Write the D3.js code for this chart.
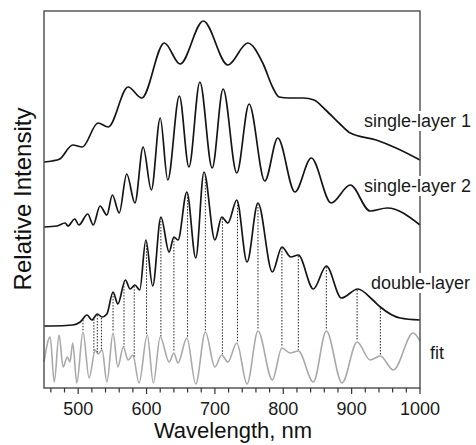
<!DOCTYPE html>
<html>
<head>
<meta charset="utf-8">
<script src="https://cdn.jsdelivr.net/npm/d3@7"></script>
<style>
  html, body { margin: 0; padding: 0; background: #fff; }
  svg { display: block; font-family: "Liberation Sans", Arial, sans-serif; }
</style>
</head>
<body>
<svg id="chart" width="476" height="445"></svg>
<script>
// wavelength (nm) / relative intensity (a.u.)
const singleLayer1Wl = [450, 462, 473, 492, 506, 529, 544, 573, 593, 626, 649, 683, 719, 748, 770, 785, 794, 808, 829, 845, 862, 883, 898, 936, 965, 1000];
const singleLayer1 = [226, 227, 229, 243, 241, 265, 261, 301, 290, 345, 324, 367, 323, 345, 325, 300, 291, 290, 290, 288, 278, 264, 255, 248, 240, 228];

const singleLayer2Wl = [450, 469, 481, 485, 495, 501, 514, 522, 532, 542, 550, 560, 571, 583, 595, 607, 620, 631, 648, 662, 678, 696, 712, 732, 750, 773, 792, 817, 841, 870, 898, 927, 952, 1000];
const singleLayer2 = [161, 162, 165, 162, 169, 163, 174, 163, 182, 173, 193, 175, 214, 185, 241, 198, 270, 208, 292, 221, 306, 220, 299, 215, 284, 207, 250, 196, 230, 185, 203, 177, 180, 163];

const doubleLayerWl = [450, 462, 492, 503, 513, 520, 528, 535, 542, 551, 558, 569, 576, 583, 590, 599, 609, 621, 633, 640, 646, 659, 672, 684, 700, 710, 719, 732, 747, 763, 784, 798, 811, 822, 844, 863, 885, 909, 931, 942, 971, 1000];
const doubleLayer = [62, 62, 63, 66, 73, 68, 74, 71, 74, 96, 84, 108, 99, 103, 98, 148, 102, 171, 136, 151, 148, 196, 130, 216, 148, 171, 165, 188, 126, 185, 116, 141, 131, 133, 99, 122, 90, 99, 88, 81, 70, 68];

const fitWl = [450, 459, 465, 472, 478, 484, 488, 492, 498, 507, 516, 525, 529, 535, 542, 551, 558, 566, 573, 580, 589, 601, 610, 620, 633, 640, 646, 659, 672, 686, 700, 710, 719, 732, 747, 763, 784, 798, 810, 822, 844, 863, 886, 908, 927, 942, 961, 990, 1000];
const fit = [26, 51, 6, 53, 21, 31, 26, 45, 5, 56, 10, 38, 34, 38, 6, 55, 21, 41, 28, 33, 5, 53, 5, 51, 26, 35, 25, 50, 4, 56, 21, 33, 26, 45, 4, 57, 8, 40, 35, 37, 6, 57, 5, 46, 28, 32, 18, 55, 47];

// wavelengths of the dotted guide lines (double-layer peak -> fit peak)
const guideWl = [507, 523, 528, 534, 551, 567, 582, 600, 621, 640, 660, 686, 711, 733, 763, 798, 822, 863, 908, 942];

const majorTicks = [500, 600, 700, 800, 900, 1000];
const minorTicks = d3.range(460, 1001, 20);

const seriesLabels = [
  { text: "single-layer 1", x: 364, y: 127 },
  { text: "single-layer 2", x: 364, y: 192 },
  { text: "double-layer", x: 371, y: 289 },
  { text: "fit", x: 430, y: 359 }
];

const svg = d3.select("#chart");
const margin = { top: 11, right: 56, bottom: 57, left: 44 };
const W = 476, H = 445;
const x = d3.scaleLinear().domain([450, 1000]).range([margin.left, W - margin.right]);
const y = d3.scaleLinear().domain([0, 377]).range([H - margin.bottom, margin.top]);

const line = d3.line()
  .x((d) => x(d[0]))
  .y((d) => y(d[1]))
  .curve(d3.curveMonotoneX);

const zip = (a, b) => a.map((v, i) => [v, b[i]]);

const plot = svg.append("g");

const fitPath = plot.append("path")
  .attr("d", line(zip(fitWl, fit)))
  .attr("fill", "none")
  .attr("stroke", "#a9a9a9")
  .attr("stroke-width", 1.6);

const dlPath = plot.append("path")
  .attr("d", line(zip(doubleLayerWl, doubleLayer)))
  .attr("fill", "none")
  .attr("stroke", "#151515")
  .attr("stroke-width", 1.7);

plot.append("path")
  .attr("d", line(zip(singleLayer2Wl, singleLayer2)))
  .attr("fill", "none")
  .attr("stroke", "#151515")
  .attr("stroke-width", 1.7);

plot.append("path")
  .attr("d", line(zip(singleLayer1Wl, singleLayer1)))
  .attr("fill", "none")
  .attr("stroke", "#151515")
  .attr("stroke-width", 1.7);

// find the y of a rendered path at a given screen x
function yOnPath(node, px) {
  const total = node.getTotalLength();
  let lo = 0, hi = total;
  for (let i = 0; i < 40; i++) {
    const mid = (lo + hi) / 2;
    if (node.getPointAtLength(mid).x < px) lo = mid; else hi = mid;
  }
  return node.getPointAtLength((lo + hi) / 2).y;
}

plot.selectAll(".guide")
  .data(guideWl)
  .join("line")
  .attr("x1", (d) => x(d))
  .attr("x2", (d) => x(d))
  .attr("y1", (d) => yOnPath(dlPath.node(), x(d)) + 1)
  .attr("y2", (d) => yOnPath(fitPath.node(), x(d)) - 1)
  .attr("stroke", "#222")
  .attr("stroke-width", 1)
  .attr("stroke-dasharray", "1.5,1.5");

// frame
svg.append("rect")
  .attr("x", margin.left)
  .attr("y", margin.top)
  .attr("width", W - margin.left - margin.right)
  .attr("height", H - margin.top - margin.bottom)
  .attr("fill", "none")
  .attr("stroke", "#4a4a4a")
  .attr("stroke-width", 1.4);

// x ticks
const axisY = H - margin.bottom;
svg.selectAll(".minor")
  .data(minorTicks)
  .join("line")
  .attr("x1", (d) => x(d))
  .attr("x2", (d) => x(d))
  .attr("y1", axisY)
  .attr("y2", (d) => axisY + (d % 100 === 0 ? 6 : 4.5))
  .attr("stroke", "#333")
  .attr("stroke-width", 1.2);

svg.selectAll(".tick-label")
  .data(majorTicks)
  .join("text")
  .attr("x", (d) => x(d))
  .attr("y", 415)
  .attr("text-anchor", "middle")
  .attr("fill", "#1a1a1a")
  .style("font-size", "18px")
  .text((d) => d);

svg.append("text")
  .attr("x", 233)
  .attr("y", 438)
  .attr("text-anchor", "middle")
  .attr("fill", "#111")
  .style("font-size", "22px")
  .text("Wavelength, nm");

svg.append("text")
  .attr("transform", "translate(31,199) rotate(-90)")
  .attr("text-anchor", "middle")
  .attr("fill", "#111")
  .style("font-size", "24px")
  .text("Relative Intensity");

// series labels sit on a white patch that breaks the frame
const labelG = svg.append("g");
seriesLabels.forEach((d) => {
  const g = labelG.append("g");
  const bg = g.append("rect").attr("fill", "#fff");
  const t = g.append("text")
    .attr("x", d.x)
    .attr("y", d.y)
    .attr("fill", "#1a1a1a")
    .style("font-size", "18px")
    .text(d.text);
  const b = t.node().getBBox();
  bg.attr("x", b.x - 2).attr("y", b.y).attr("width", b.width + 4).attr("height", b.height);
});
</script>
</body>
</html>
